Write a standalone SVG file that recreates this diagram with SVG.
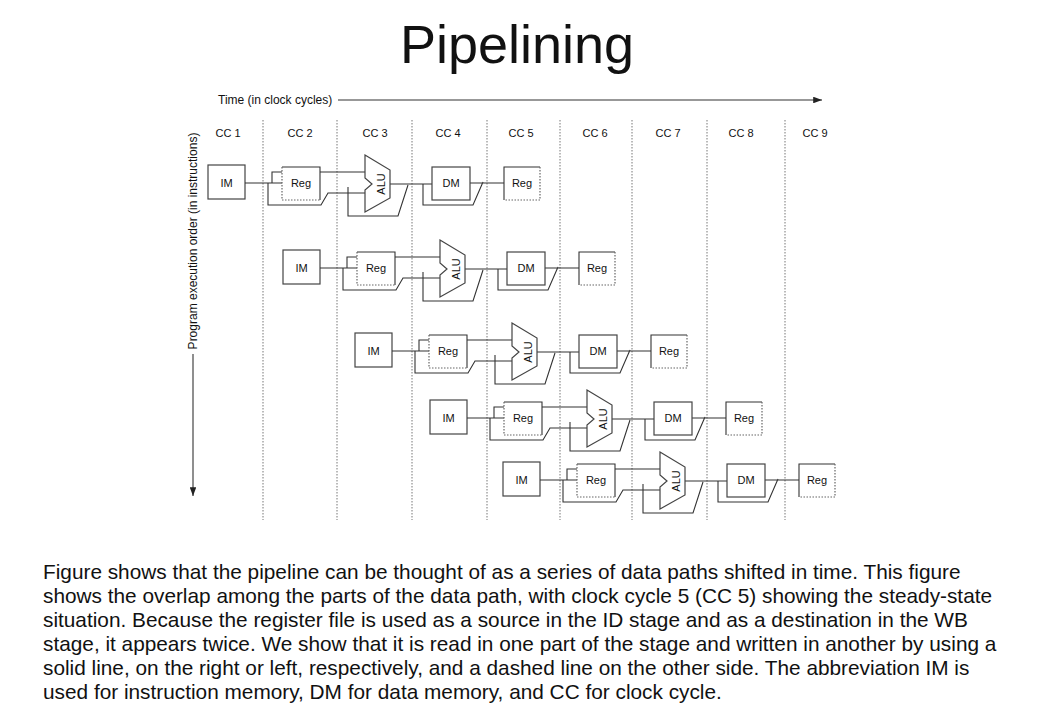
<svg xmlns="http://www.w3.org/2000/svg" width="1040" height="725" viewBox="0 0 1040 725">
<style>
text{font-family:"Liberation Sans",Arial,sans-serif;fill:#111}
.lbl{font-size:11px;text-anchor:middle}
.box{fill:#fff;stroke:#444;stroke-width:1.2}
.ln{fill:none;stroke:#333;stroke-width:1.1}
.dot{fill:none;stroke:#666;stroke-width:1.2;stroke-dasharray:1.5 1.5}
.grid{stroke:#777;stroke-width:1;stroke-dasharray:1.5 1.5}
.p{font-size:20.8px}
</style>
<defs>
<marker id="ah" markerWidth="8" markerHeight="6" refX="8" refY="3" orient="auto"><path d="M0,0 L8,3 L0,6 z" fill="#222"/></marker>
<g id="stage">
<rect class="box" x="0" y="0" width="37" height="34"/>
<text class="lbl" x="18.5" y="22">IM</text>
<path class="ln" d="M37 18 H74 M64 18 V7 H74 M60 18 V40 H113 L120 28 H157 M112 7 H157 M182 19 H224 M140 22 V51 H190 L200 20 M262 18 H296 M215 19 V40 H265 L275 17"/>
<rect x="74" y="2" width="38" height="33" fill="#fff"/>
<path class="ln" d="M74 2 H112 V35"/>
<path class="dot" d="M74 2 V35 H112"/>
<text class="lbl" x="93" y="22">Reg</text>
<polygon class="box" points="157,-10 182,5 182,33 157,47 157,25 164,19 157,13"/>
<text class="lbl" transform="translate(173,19) rotate(-90)" y="4">ALU</text>
<rect class="box" x="224" y="2" width="38" height="33"/>
<text class="lbl" x="243" y="22">DM</text>
<rect x="296" y="2" width="36" height="33" fill="#fff"/>
<path class="ln" d="M296 35 V2 H332"/>
<path class="dot" d="M332 2 V35 H296"/>
<text class="lbl" x="314" y="22">Reg</text>
</g>
</defs>
<text x="517" y="63" font-size="54" text-anchor="middle">Pipelining</text>
<g id="axes">
<text x="218" y="104" font-size="12">Time (in clock cycles)</text>
<line class="ln" x1="338" y1="100" x2="822" y2="100" marker-end="url(#ah)"/>
<text transform="translate(197,241) rotate(-90)" font-size="12" text-anchor="middle">Program execution order (in instructions)</text>
<line class="ln" x1="193" y1="354" x2="193" y2="496" marker-end="url(#ah)"/>
</g>
<g id="grid">
<line class="grid" x1="263" y1="120" x2="263" y2="520"/>
<line class="grid" x1="337" y1="120" x2="337" y2="520"/>
<line class="grid" x1="412" y1="120" x2="412" y2="520"/>
<line class="grid" x1="487" y1="120" x2="487" y2="520"/>
<line class="grid" x1="560" y1="120" x2="560" y2="520"/>
<line class="grid" x1="632" y1="120" x2="632" y2="520"/>
<line class="grid" x1="707" y1="120" x2="707" y2="520"/>
<line class="grid" x1="785" y1="120" x2="785" y2="520"/>
</g>
<g id="cc">
<text class="lbl" x="228" y="137">CC 1</text>
<text class="lbl" x="300" y="137">CC 2</text>
<text class="lbl" x="375" y="137">CC 3</text>
<text class="lbl" x="448" y="137">CC 4</text>
<text class="lbl" x="521" y="137">CC 5</text>
<text class="lbl" x="595" y="137">CC 6</text>
<text class="lbl" x="668" y="137">CC 7</text>
<text class="lbl" x="741" y="137">CC 8</text>
<text class="lbl" x="815" y="137">CC 9</text>
</g>
<g id="instr1"><use href="#stage" x="208" y="165"/></g>
<g id="instr2"><use href="#stage" x="283" y="250"/></g>
<g id="instr3"><use href="#stage" x="355" y="333"/></g>
<g id="instr4"><use href="#stage" x="430" y="400"/></g>
<g id="instr5"><use href="#stage" x="503" y="462"/></g>
<g id="caption">
<text class="p" x="43" y="579">Figure shows that the pipeline can be thought of as a series of data paths shifted in time. This figure</text>
<text class="p" x="43" y="603">shows the overlap among the parts of the data path, with clock cycle 5 (CC 5) showing the steady-state</text>
<text class="p" x="43" y="627">situation. Because the register file is used as a source in the ID stage and as a destination in the WB</text>
<text class="p" x="43" y="651">stage, it appears twice. We show that it is read in one part of the stage and written in another by using a</text>
<text class="p" x="43" y="675">solid line, on the right or left, respectively, and a dashed line on the other side. The abbreviation IM is</text>
<text class="p" x="43" y="699">used for instruction memory, DM for data memory, and CC for clock cycle.</text>
</g>
</svg>
